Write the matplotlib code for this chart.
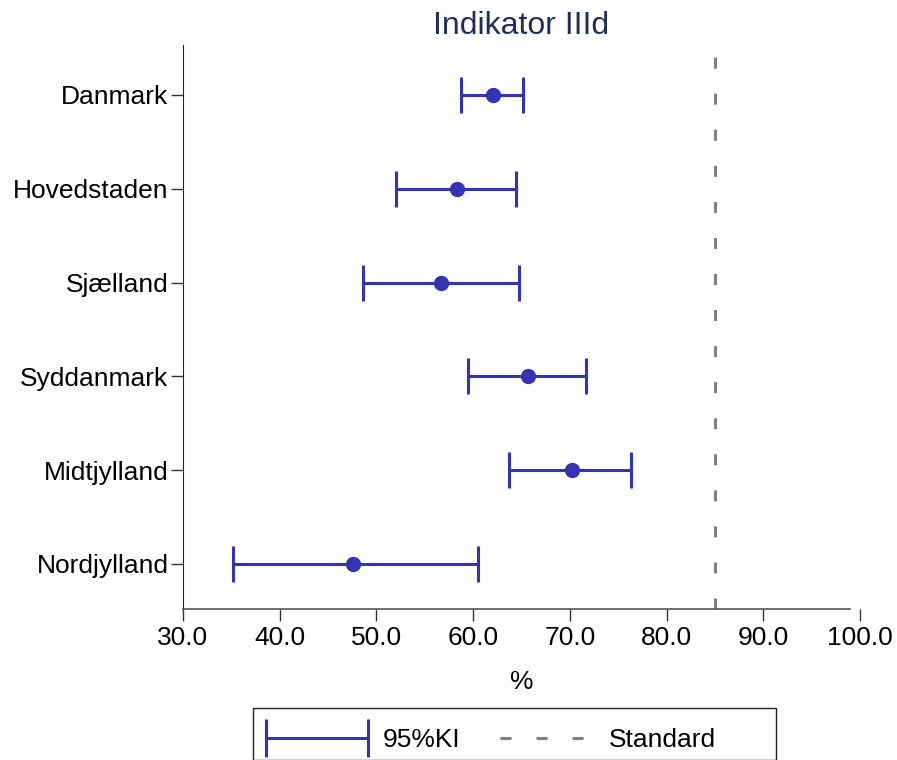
import matplotlib
matplotlib.use("Agg")
import matplotlib.pyplot as plt
from matplotlib.lines import Line2D
from matplotlib.patches import Rectangle
from matplotlib.legend_handler import HandlerLine2D

regions = ["Danmark", "Hovedstaden", "Sjælland", "Syddanmark", "Midtjylland", "Nordjylland"]
estimate = [62.1, 58.3, 56.7, 65.7, 70.2, 47.6]
ci_low = [58.7, 52.0, 48.6, 59.5, 63.7, 35.2]
ci_high = [65.2, 64.4, 64.7, 71.7, 76.3, 60.5]
standard = 85.0
x_ticks = [30, 40, 50, 60, 70, 80, 90, 100]

plt.rcParams["font.family"] = ["Liberation Sans", "DejaVu Sans"]

blue = "#3333b3"
grey = "#808080"
W, H = 897, 760

fig = plt.figure(figsize=(W / 100, H / 100), dpi=100)
ax = fig.add_axes([183 / W, 1 - 609 / H, (860 - 183) / W, (609 - 45) / H])

ypos = list(range(len(regions)))
err_lo = [e - l for e, l in zip(estimate, ci_low)]
err_hi = [h - e for e, h in zip(estimate, ci_high)]

ax.errorbar(estimate, ypos, xerr=[err_lo, err_hi], fmt="none", ecolor=blue,
            elinewidth=2.2, capsize=13, capthick=2.2, zorder=3)
ax.plot(estimate, ypos, "o", color=blue, markersize=10, zorder=4)
std_dashes = (3.6, 8.2)
ax.axvline(standard, color=grey, linewidth=2.2, dashes=std_dashes, zorder=2)

ax.set_xlim(30, 100)
ax.set_ylim(5.48, -0.533)
ax.set_yticks(ypos)
ax.set_yticklabels(regions)
ax.set_xticks(x_ticks)
ax.set_xticklabels([f"{v:.1f}" for v in x_ticks])
ax.tick_params(axis="both", labelsize=19, length=8.5, width=1, color="#333333", direction="out")
ax.tick_params(axis="x", pad=4)
ax.tick_params(axis="y", pad=2)

for side in ("top", "right"):
    ax.spines[side].set_visible(False)
ax.spines["left"].set_color("#222222")
ax.spines["bottom"].set_color("#555555")
ax.spines["bottom"].set_linewidth(1.2)
ax.spines["bottom"].set_bounds(30, 99)

ax.set_xlabel("%", fontsize=19, labelpad=14)
ax.set_title("Indikator IIId", fontsize=23, color="#1f2f5c", pad=8)

# legend frame drawn separately (box is wider on the right than matplotlib pads it)
fig.patches.append(Rectangle((253 / W, 0), (776 - 253) / W, 1 - 708 / H,
                             transform=fig.transFigure, fill=False,
                             edgecolor="#222222", linewidth=1.0))

ci_handle = Line2D([], [], color=blue, linewidth=2.2, marker="|", markersize=28,
                   markeredgewidth=2.2)
std_handle = Line2D([], [], color=grey, linewidth=2.2, dashes=std_dashes)
fig.legend([ci_handle, std_handle], ["95%KI", "Standard"], loc="center left",
           bbox_to_anchor=(266 / W, 1 - 740 / H), ncol=2, numpoints=2,
           handler_map={ci_handle: HandlerLine2D(marker_pad=0, numpoints=2)},
           fontsize=19, frameon=False, borderpad=0, borderaxespad=0,
           handlelength=3.87, handletextpad=0.57, columnspacing=1.17)

fig.savefig("out.png", dpi=100)
